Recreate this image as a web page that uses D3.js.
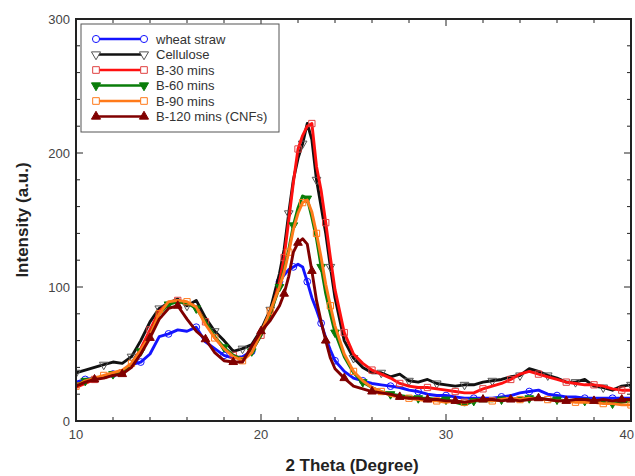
<!DOCTYPE html>
<html>
<head>
<meta charset="utf-8">
<script src="https://cdn.jsdelivr.net/npm/d3@7"></script>
<style>
  body { margin: 0; background: #fff; }
  svg { display: block; font-family: "Liberation Sans", Arial, sans-serif; }
  .tick-label { font-size: 13px; fill: #444; }
  .axis-title { font-size: 17px; font-weight: bold; fill: #222; }
  .legend-text { font-size: 13px; fill: #333; }
</style>
</head>
<body>
<svg id="chart" width="635" height="476"></svg>
<script>
// 2 theta positions (degree)
const theta = [10,10.5,11,11.5,12,12.5,13,13.5,14,14.5,15,15.5,16,16.5,17,17.5,18,18.5,19,19.5,20,20.5,21,
  21.25,21.5,21.75,22,22.25,22.5,22.75,23,23.25,23.5,23.75,24,
  24.5,25,25.5,26,26.5,27,27.5,28,28.5,29,29.5,30,30.5,31,31.5,32,32.5,33,33.5,34,34.5,35,35.5,36,36.5,37,37.5,38,38.5,39,39.5,40];

const wheatStraw = [29,31,32,33,35,37,42,44,50,63,65,68,67,70,59,54,49,47,48,52,66,82,104,
  109,113,115,117,115,104,92,83,73,62,53,45,
  37,32,30,28,27,26,25,23,22,20,19,19,18,17,17,17,17,18,19,21,22,23,20,19,18,18,17,17,17,17,17,17];

const cellulose = [36,38,40,42,44,43,48,60,74,84,88,91,86,90,77,67,60,52,54,57,68,83,110,
  128,155,180,196,207,222,210,180,160,140,115,92,
  60,47,40,36,36,33,35,30,29,31,28,27,26,27,27,29,30,31,33,34,39,37,34,32,29,29,31,26,25,23,26,27];

const b30 = [25,28,31,33,35,36,42,54,68,82,88,90,88,85,74,62,54,49,46,52,64,78,104,
  122,150,178,203,213,220,222,190,172,148,122,98,
  66,50,43,38,35,32,28,26,25,25,24,23,22,21,21,24,26,28,31,35,37,35,33,31,29,28,27,27,26,24,23,23];

const b60 = [27,30,32,33,35,37,42,52,64,80,87,89,88,84,74,63,55,49,46,52,64,80,100,
  113,128,146,159,168,166,152,136,115,95,80,66,
  48,36,29,25,22,20,19,18,17,17,16,16,14,12,15,15,15,16,16,17,17,17,16,16,15,15,15,14,14,13,14,15];

const b90 = [26,30,32,34,36,38,43,53,64,80,89,90,89,85,72,62,54,48,45,51,66,82,100,
  111,126,143,155,163,165,156,140,122,102,86,71,
  50,37,30,25,22,19,18,17,16,15,15,14,15,14,15,16,15,16,17,16,17,16,16,15,15,14,14,14,13,13,12,12];

const b120 = [26,29,31,32,34,35,40,50,62,76,84,86,76,67,61,51,45,44,44,56,67,75,86,
  95,108,126,133,136,132,112,90,74,60,47,39,
  32,26,24,22,21,20,18,17,17,16,16,15,15,14,15,16,16,15,16,15,16,17,16,15,15,16,16,15,16,15,16,16];

const seriesNames = ["wheat straw", "Cellulose", "B-30 mins", "B-60 mins", "B-90 mins", "B-120 mins (CNFs)"];
const seriesValues = [wheatStraw, cellulose, b30, b60, b90, b120];

const xTicks = [10, 20, 30, 40];
const yTicks = [0, 100, 200, 300];

// styling for each series
const styles = [
  { color: "#1414ff", marker: "circle", fill: "none", offset: 1 },
  { color: "#111111", marker: "down", fill: "none", offset: 0, markerStroke: "#555" },
  { color: "#ff1010", marker: "square", fill: "none", offset: 2, markerStroke: "#e04040" },
  { color: "#0a7d0a", marker: "down", fill: "#0a7d0a", offset: 1 },
  { color: "#ff7a1a", marker: "square", fill: "none", offset: 0 },
  { color: "#800000", marker: "up", fill: "#800000", offset: 2 }
];

const svg = d3.select("#chart");
const margin = { left: 76, right: 4, top: 19, bottom: 55 };
const width = 635 - margin.left - margin.right;
const height = 476 - margin.top - margin.bottom;

const x = d3.scaleLinear().domain([10, 40]).range([margin.left, margin.left + width]);
const y = d3.scaleLinear().domain([0, 300]).range([margin.top + height, margin.top]);

svg.append("clipPath").attr("id", "plot-clip")
  .append("rect")
  .attr("x", margin.left).attr("y", margin.top)
  .attr("width", width).attr("height", height);

const symbolFor = (m, size) => {
  if (m === "circle") return d3.symbol().type(d3.symbolCircle).size(size)();
  if (m === "square") return d3.symbol().type(d3.symbolSquare).size(size * 1.1)();
  return d3.symbol().type(d3.symbolTriangle).size(size * 0.9)();
};

const line = d3.line()
  .x((d) => x(d[0]))
  .y((d) => y(d[1]));

const plot = svg.append("g").attr("clip-path", "url(#plot-clip)");

seriesValues.forEach((vals, i) => {
  const st = styles[i];
  const pts = theta.map((t, k) => [t, vals[k]]);
  const g = plot.append("g");

  g.append("path")
    .datum(pts)
    .attr("fill", "none")
    .attr("stroke", st.color)
    .attr("stroke-width", 2.9)
    .attr("stroke-linejoin", "round")
    .attr("d", line);

  g.selectAll("path.mk")
    .data(pts.filter((p, k) => k % 3 === st.offset))
    .enter()
    .append("path")
    .attr("class", "mk")
    .attr("d", symbolFor(st.marker, 36))
    .attr("transform", (p) => `translate(${x(p[0])},${y(p[1])})` + (st.marker === "down" ? " rotate(180)" : ""))
    .attr("fill", st.fill)
    .attr("stroke", st.markerStroke || st.color)
    .attr("stroke-width", 1);
});

// frame and ticks
const axisColor = "#222";
const frame = svg.append("g");

frame.append("rect")
  .attr("x", margin.left).attr("y", margin.top)
  .attr("width", width).attr("height", height)
  .attr("fill", "none")
  .attr("stroke", axisColor)
  .attr("stroke-width", 2);

const xMinor = d3.range(10, 40.01, 2);
const yMinor = d3.range(0, 300.01, 20);

xMinor.forEach((v) => {
  const len = xTicks.includes(v) ? 7 : 4;
  frame.append("line")
    .attr("x1", x(v)).attr("x2", x(v))
    .attr("y1", margin.top + height).attr("y2", margin.top + height - len)
    .attr("stroke", axisColor).attr("stroke-width", 1);
  frame.append("line")
    .attr("x1", x(v)).attr("x2", x(v))
    .attr("y1", margin.top).attr("y2", margin.top + len)
    .attr("stroke", axisColor).attr("stroke-width", 1);
});

yMinor.forEach((v) => {
  const len = yTicks.includes(v) ? 7 : 4;
  frame.append("line")
    .attr("x1", margin.left).attr("x2", margin.left + len)
    .attr("y1", y(v)).attr("y2", y(v))
    .attr("stroke", axisColor).attr("stroke-width", 1);
  frame.append("line")
    .attr("x1", margin.left + width).attr("x2", margin.left + width - len)
    .attr("y1", y(v)).attr("y2", y(v))
    .attr("stroke", axisColor).attr("stroke-width", 1);
});

// last x label would run off the page, so pin it to the right edge
svg.selectAll("text.xt")
  .data(xTicks)
  .enter()
  .append("text")
  .attr("class", "tick-label")
  .attr("x", (d, i) => i === xTicks.length - 1 ? 634 : x(d))
  .attr("y", margin.top + height + 18)
  .attr("text-anchor", (d, i) => i === xTicks.length - 1 ? "end" : "middle")
  .text((d) => d);

svg.selectAll("text.yt")
  .data(yTicks)
  .enter()
  .append("text")
  .attr("class", "tick-label")
  .attr("x", margin.left - 6)
  .attr("y", (d) => y(d) + 5)
  .attr("text-anchor", "end")
  .text((d) => d);

svg.append("text")
  .attr("class", "axis-title")
  .attr("x", 352)
  .attr("y", 471)
  .attr("text-anchor", "middle")
  .text("2 Theta (Degree)");

svg.append("text")
  .attr("class", "axis-title")
  .attr("transform", "translate(28, 220) rotate(-90)")
  .attr("text-anchor", "middle")
  .text("Intensity (a.u.)");

// legend
const legend = svg.append("g");
legend.append("rect")
  .attr("x", 81).attr("y", 24)
  .attr("width", 198).attr("height", 108)
  .attr("fill", "#fff")
  .attr("stroke", "#555")
  .attr("stroke-width", 1);

seriesNames.forEach((name, i) => {
  const st = styles[i];
  const ly = 39 + i * 15.5;
  legend.append("line")
    .attr("x1", 96).attr("x2", 144)
    .attr("y1", ly).attr("y2", ly)
    .attr("stroke", st.color)
    .attr("stroke-width", 2.6);
  [96, 144].forEach((lx) => {
    legend.append("path")
      .attr("d", symbolFor(st.marker, 40))
      .attr("transform", `translate(${lx},${ly})` + (st.marker === "down" ? " rotate(180)" : ""))
      .attr("fill", st.fill === "none" ? "#fff" : st.fill)
      .attr("stroke", st.markerStroke || st.color)
      .attr("stroke-width", 1);
  });
  legend.append("text")
    .attr("class", "legend-text")
    .attr("x", 156)
    .attr("y", ly + 4.5)
    .text(name);
});
</script>
</body>
</html>
